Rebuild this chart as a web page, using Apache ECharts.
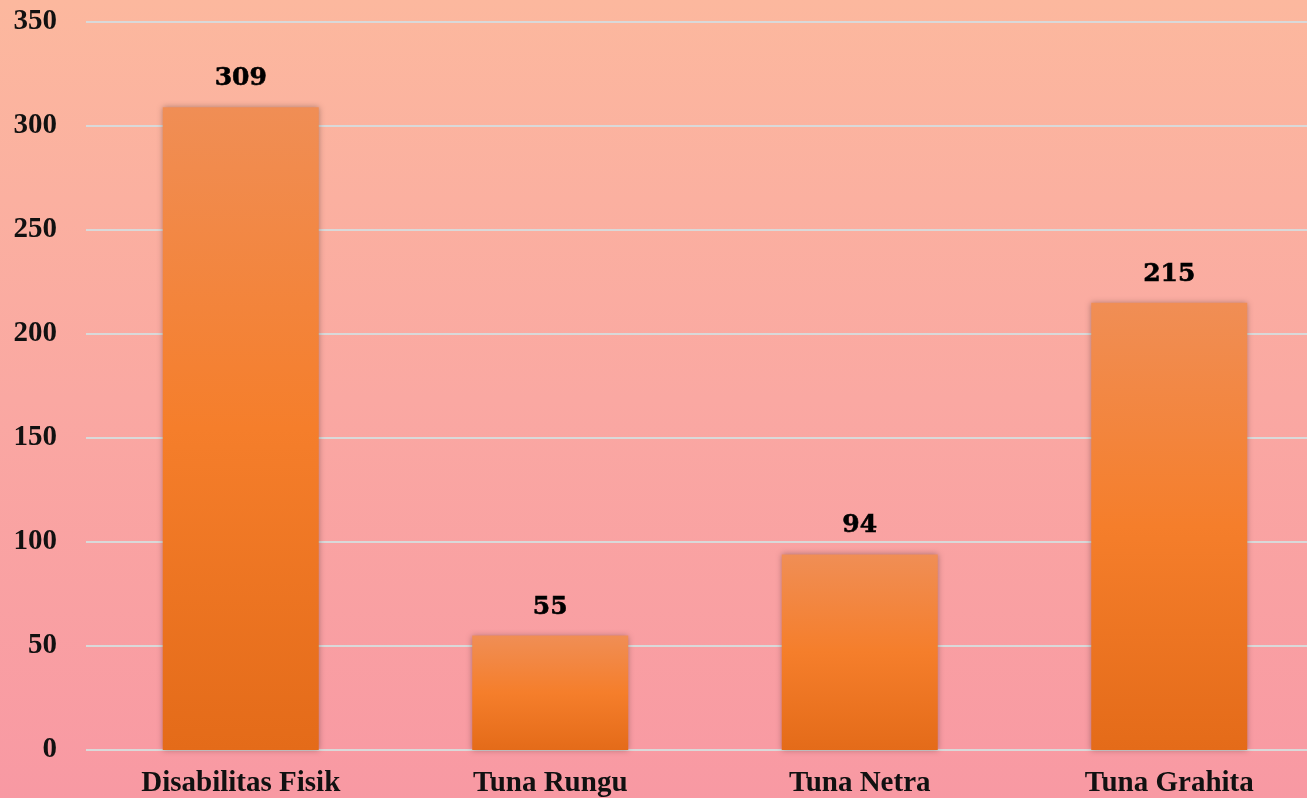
<!DOCTYPE html>
<html>
<head>
<meta charset="utf-8">
<script src="https://cdn.jsdelivr.net/npm/echarts@6/dist/echarts.min.js"></script>
<style>
  html, body { margin: 0; padding: 0; }
  #chart { width: 1307px; height: 798px; background: linear-gradient(to bottom, #fcb89e 0%, #faa8a2 50%, #f899a3 100%); }
</style>
</head>
<body>
<div id="chart"></div>
<script>
// data
var categories = ['Disabilitas Fisik', 'Tuna Rungu', 'Tuna Netra', 'Tuna Grahita'];
var values = [309, 55, 94, 215];
var yTicks = { min: 0, max: 350, interval: 50 };

var myChart = echarts.init(document.getElementById('chart'));

var option = {
    backgroundColor: 'transparent',
    animation: false,
    grid: {
        left: 86,
        width: 1238,
        top: 22,
        bottom: 48,
        containLabel: false,
        outerBoundsMode: 'none'
    },
    xAxis: {
        type: 'category',
        data: categories,
        axisTick: { show: false },
        axisLine: { show: false },
        axisLabel: {
            margin: 19,
            color: '#111',
            fontFamily: 'Liberation Serif',
            fontWeight: 'bold',
            fontSize: 29
        }
    },
    yAxis: {
        type: 'value',
        min: yTicks.min,
        max: yTicks.max,
        interval: yTicks.interval,
        axisLine: { show: false },
        axisTick: { show: false },
        splitLine: {
            lineStyle: { color: '#d9d9d9', width: 2 }
        },
        axisLabel: {
            margin: 29,
            color: '#111',
            fontFamily: 'Liberation Serif',
            fontWeight: 'bold',
            fontSize: 29
        }
    },
    series: [{
        type: 'bar',
        data: values,
        barWidth: 156,
        itemStyle: {
            color: new echarts.graphic.LinearGradient(0, 0, 0, 1, [
                { offset: 0, color: '#f08e55' },
                { offset: 0.5, color: '#f57e2b' },
                { offset: 1, color: '#e46b19' }
            ]),
            shadowBlur: 6,
            shadowColor: 'rgba(0,0,0,0.3)'
        },
        label: {
            show: true,
            position: 'top',
            distance: 16,
            color: '#000',
            fontFamily: 'DejaVu Serif',
            fontWeight: 'bold',
            fontSize: 25,
            textBorderColor: '#000',
            textBorderWidth: 0.6
        }
    }]
};
myChart.setOption(option);
</script>
</body>
</html>
